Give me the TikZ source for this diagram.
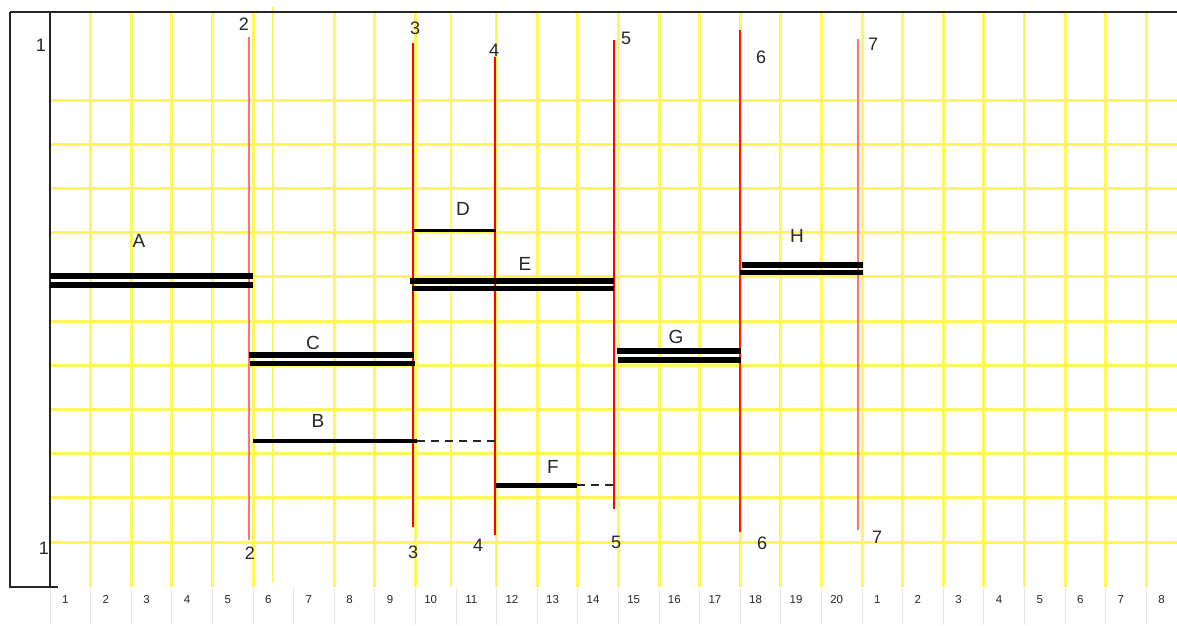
\documentclass[tikz,border=0pt]{standalone}
\usepackage{fontspec}
\setmainfont{Liberation Sans}
\begin{document}
\begin{tikzpicture}[x=1pt,y=-1pt,
  gridv/.style={draw=yellow!65!white, line width=3pt},
  gridthin/.style={draw=yellow!65!white, line width=1.5pt},
  gridh/.style={draw=yellow!65!white, line width=3pt},
  axsep/.style={draw=black!10, line width=1pt},
  frame/.style={draw=black!85, line width=1.5pt},
  cut/.style={draw=red, line width=2pt},
  cutpale/.style={draw=red!55, line width=2pt},
  bar/.style={draw=black, line width=6pt},
  thinbar/.style={draw=black, line width=3pt},
  dashbar/.style={draw=black!85, line width=2pt, dash pattern=on 8pt off 6pt},
  lbl/.style={font=\fontsize{19}{20}\selectfont, text=black!85, inner sep=0pt},
  num/.style={font=\fontsize{18}{19}\selectfont, text=black!85, inner sep=0pt},
  ax/.style={font=\fontsize{11.5}{12}\selectfont, text=black!85, inner sep=0pt, anchor=base}]
\useasboundingbox[fill=white] (0,0) rectangle (1177,625);
% horizontal grid
\foreach \k in {0,...,10}{
  \draw[gridh] (50,{100+44.2*\k}) -- (1177,{100+44.2*\k});
}
% vertical grid
\foreach \k in {1,...,27}{
  \ifnum\k=6\else\ifnum\k=10\else
  \draw[gridv] ({50+40.6*\k},12) -- ({50+40.6*\k},587);
  \fi\fi
}
\draw[gridthin] (273,7) -- (273,583);
\draw[gridthin] (451,12) -- (451,587);
% axis strip
\foreach \k in {0,...,28}{
  \draw[axsep] ({50+40.6*\k},588) -- ({50+40.6*\k},625);
}
\foreach \n [count=\k from 0] in {1,2,3,4,5,6,7,8,9,10,11,12,13,14,15,16,17,18,19,20,1,2,3,4,5,6,7,8}{
  \node[ax] (ax\k) at ({50+40.6*(\k+0.5)-5},603.5) {\n};
}
% frame
\draw[frame] (10,12) -- (1177,12);
\draw[frame] (10,12) -- (10,587) -- (58,587);
\draw[frame] (50,12) -- (50,587);
% cut lines
\coordinate (c2t) at (249,37);  \coordinate (c2b) at (249,540);
\coordinate (c3t) at (413,43);  \coordinate (c3b) at (413,527);
\coordinate (c4t) at (495,57);  \coordinate (c4b) at (495,535);
\coordinate (c5t) at (614,40);  \coordinate (c5b) at (614,509);
\coordinate (c6t) at (740,30);  \coordinate (c6b) at (740,532);
\coordinate (c7t) at (858,39);  \coordinate (c7b) at (858,530);
\draw[cutpale] (c2t) -- (c2b);
\draw[cut] (c3t) -- (c3b);
\draw[cut] (c4t) -- (c4b);
\draw[cut] (c5t) -- (c5b);
\draw[cut, draw=red!80!orange] (c6t) -- (c6b);
\draw[cutpale] (c7t) -- (c7b);
% cut labels
\node[num] (t1) at (41,45) {1};
\node[num] (b1) at (44,548) {1};
\node[num] (t2) at (244,24) {2};
\node[num] (b2) at (250,553) {2};
\node[num] (t3) at (415,28) {3};
\node[num] (b3) at (413,552) {3};
\node[num] (t4) at (494,50) {4};
\node[num] (b4) at (478,545) {4};
\node[num] (t5) at (626,38) {5};
\node[num] (b5) at (616,542) {5};
\node[num] (t6) at (761,57) {6};
\node[num] (b6) at (762,543) {6};
\node[num] (t7) at (873,44) {7};
\node[num] (b7) at (877,537) {7};
% bars
\coordinate (a1) at (50,275.5); \coordinate (a2) at (253,275.5);
\coordinate (a3) at (50,284.5); \coordinate (a4) at (253,284.5);
\draw[bar] (a1) -- (a2); \draw[bar] (a3) -- (a4);
\node[lbl] (A) at (139,241) {A};
\coordinate (cc1) at (249,355); \coordinate (cc2) at (414,355);
\coordinate (cc3) at (250,363.5); \coordinate (cc4) at (415,363.5);
\draw[bar] (cc1) -- (cc2); \draw[bar, line width=5pt] (cc3) -- (cc4);
\node[lbl] (C) at (313,343) {C};
\coordinate (b1s) at (253,441); \coordinate (b1e) at (417,441); \coordinate (b1d) at (495,441);
\draw[bar, line width=4.5pt] (b1s) -- (b1e);
\draw[dashbar] (b1e) -- (b1d);
\node[lbl] (B) at (318,421) {B};
\coordinate (d1) at (414,230); \coordinate (d2) at (496,230);
\draw[thinbar] (d1) -- (d2);
\node[lbl] (D) at (463,209) {D};
\coordinate (e1) at (410,281); \coordinate (e2) at (614,281);
\coordinate (e3) at (412,288.5); \coordinate (e4) at (614,288.5);
\draw[bar, line width=5.5pt] (e1) -- (e2); \draw[bar, line width=5.5pt] (e3) -- (e4);
\node[lbl] (E) at (525,264) {E};
\coordinate (f1) at (496,485); \coordinate (f2) at (577,485); \coordinate (f3) at (616,485);
\draw[bar, line width=5pt] (f1) -- (f2);
\draw[dashbar] (f2) -- (f3);
\node[lbl] (F) at (553,467) {F};
\coordinate (g1) at (617,351); \coordinate (g2) at (741,351);
\coordinate (g3) at (618,360); \coordinate (g4) at (741,360);
\draw[bar] (g1) -- (g2); \draw[bar] (g3) -- (g4);
\node[lbl] (G) at (676,337) {G};
\coordinate (h1) at (742,264.5); \coordinate (h2) at (863,264.5);
\coordinate (h3) at (740,272); \coordinate (h4) at (863,272);
\draw[bar] (h1) -- (h2); \draw[bar, line width=5pt] (h3) -- (h4);
\node[lbl] (H) at (797,236) {H};
\end{tikzpicture}
\end{document}
